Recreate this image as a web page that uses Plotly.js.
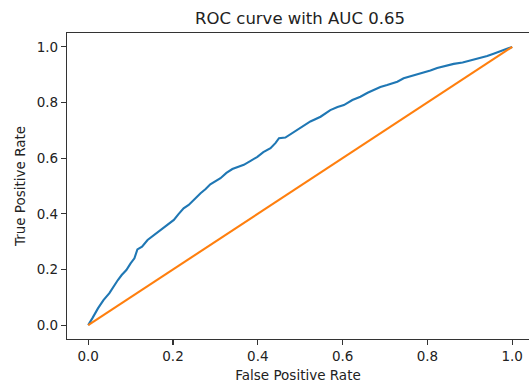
<!DOCTYPE html>
<html>
<head>
<meta charset="utf-8">
<script src="https://cdn.plot.ly/plotly-3.0.1.min.js"></script>
<style>html,body{margin:0;padding:0;background:#fff;}#chart{width:529px;height:384px;}</style>
</head>
<body>
<div id="chart"></div>
<script>
// ROC curve (False Positive Rate, True Positive Rate)
const fpr = [0, 0.003, 0.01, 0.023, 0.036, 0.050, 0.060, 0.070, 0.079, 0.090, 0.100, 0.109, 0.116, 0.127, 0.140, 0.155, 0.166, 0.175, 0.187, 0.202, 0.213, 0.225, 0.237, 0.245, 0.255, 0.265, 0.277, 0.288, 0.312, 0.326, 0.340, 0.352, 0.367, 0.383, 0.399, 0.413, 0.430, 0.442, 0.450, 0.465, 0.482, 0.501, 0.524, 0.548, 0.571, 0.588, 0.603, 0.623, 0.642, 0.659, 0.674, 0.689, 0.705, 0.729, 0.744, 0.760, 0.776, 0.791, 0.807, 0.823, 0.843, 0.862, 0.883, 0.902, 0.920, 0.941, 0.956, 0.972, 0.987, 1.0];
const tpr = [0, 0.007, 0.025, 0.060, 0.090, 0.115, 0.140, 0.162, 0.180, 0.198, 0.222, 0.240, 0.272, 0.282, 0.306, 0.324, 0.338, 0.348, 0.360, 0.378, 0.399, 0.420, 0.432, 0.444, 0.460, 0.474, 0.489, 0.506, 0.528, 0.547, 0.561, 0.568, 0.576, 0.590, 0.605, 0.622, 0.636, 0.655, 0.672, 0.674, 0.691, 0.708, 0.732, 0.749, 0.773, 0.784, 0.791, 0.809, 0.821, 0.835, 0.845, 0.856, 0.863, 0.875, 0.887, 0.894, 0.899, 0.906, 0.915, 0.924, 0.932, 0.939, 0.944, 0.951, 0.959, 0.967, 0.975, 0.985, 0.993, 1.0];
// Chance diagonal
const diagX = [0, 1];
const diagY = [0, 1];
const tickVals = [0, 0.2, 0.4, 0.6, 0.8, 1.0];
const tickText = ['0.0', '0.2', '0.4', '0.6', '0.8', '1.0'];
const titleText = 'ROC curve with AUC 0.65';
const xTitle = 'False Positive Rate';
const yTitle = 'True Positive Rate';

const font = 'DejaVu Sans, sans-serif';
const traces = [
  {x: fpr, y: tpr, type: 'scatter', mode: 'lines', line: {color: '#1f77b4', width: 2.1}, hoverinfo: 'none'},
  {x: diagX, y: diagY, type: 'scatter', mode: 'lines', line: {color: '#ff7f0e', width: 2.1}, hoverinfo: 'none'}
];
const axisCommon = {
  showgrid: false, zeroline: false, showline: true, linecolor: '#333', linewidth: 1.1,
  ticks: 'outside', ticklen: 5, tickwidth: 1.1, tickcolor: '#333',
  tickvals: tickVals, ticktext: tickText,
  tickfont: {family: font, size: 13.5, color: '#222'}
};
const layout = {
  width: 529, height: 384,
  paper_bgcolor: '#fff', plot_bgcolor: '#fff',
  showlegend: false,
  margin: {l: 67, r: 0, t: 33, b: 45, pad: 0},
  title: {text: titleText, font: {family: font, size: 16.5, color: '#222'},
          xref: 'container', x: 300/529, xanchor: 'center', yref: 'container', y: 1 - 18/384, yanchor: 'middle'},
  xaxis: Object.assign({}, axisCommon, {range: [-0.05, 1.0396], mirror: true,
          title: {text: xTitle, font: {family: font, size: 13.5, color: '#222'}, standoff: 7}}),
  yaxis: Object.assign({}, axisCommon, {range: [-0.05, 1.05], mirror: false,
          title: {text: yTitle, font: {family: font, size: 13.5, color: '#222'}, standoff: 8}})
};
Plotly.newPlot('chart', traces, layout, {staticPlot: true, displayModeBar: false});
</script>
</body>
</html>
